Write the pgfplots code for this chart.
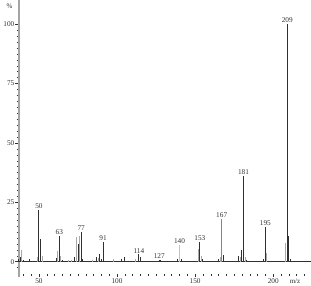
\documentclass[border=0pt]{standalone}
\usepackage{fontspec}
\setmainfont{Liberation Serif}
\usepackage{pgfplots}
\pgfplotsset{compat=1.18}
\definecolor{pk}{HTML}{303030}
\definecolor{pg}{HTML}{A8A8A8}
\definecolor{pl}{HTML}{C4C4C4}
\definecolor{ax}{HTML}{A4A4A4}
\begin{document}
\begin{tikzpicture}
\begin{axis}[
  at={(19bp,12.4bp)}, anchor=south west,
  scale only axis, width=292bp, height=273.6bp,
  xmin=37.2, xmax=224.2, ymin=-5, ymax=110.2,
  axis x line*=bottom, axis y line*=left,
  axis line style={draw=none},
  tick align=outside,
  major tick length=3.5bp, minor tick length=2bp,
  tick style={pk, line width=0.5bp},
  xtick={50,100,150,200},
  minor xtick={40,45,...,220},
  ytick={0,25,50,75,100},
  minor ytick={-2.5,0,...,100},
  /pgf/number format/assume math mode=true,
  tick label style={font=\fontsize{7.3}{8}\selectfont, text=pk},
  yticklabel style={inner sep=1bp},
  xticklabel style={inner sep=1bp},
  clip=false,
  nodes near coords style={font=\fontsize{7.3}{8}\selectfont, anchor=south, inner sep=0.8bp, text=pk},
]
% y axis line
\draw[ax, line width=2bp] ([yshift=-3bp]rel axis cs:0,0) -- (rel axis cs:0,1);
% baseline
\addplot[pk, line width=0.8bp] coordinates {(37.2,0) (224.2,0)};
% gray peaks (unlabelled)
\addplot[ycomb, pg, line width=1bp] table {
m h
39 4.8
49 2.0
52 2.2
62 4.6
64 2.3
69 0.6
71 0.6
74 10.4
76 10.7
84 0.8
88 1.6
98 1.0
112 1.0
152 5.3
154 2.4
166 1.8
179 1.8
182 1.8
196 3.6
208 7.8
};
% black peaks (unlabelled)
\addplot[ycomb, pk, line width=1bp] table {
m h
37 1.3
38 2.0
40 0.6
44 1.0
51 9.4
55 0.5
61 1.5
65 0.8
73 1.9
75 7.5
78 1.2
87 1.8
89 3.4
90 1.0
92 0.5
101 0.5
103 1.3
105 2.1
115 2.1
117 0.5
128 0.6
139 1.2
141 1.0
150 0.5
155 1.0
165 1.1
168 2.7
178 2.5
180 4.9
183 0.7
194 1.0
210 10.9
211 1.0
};
% labelled black peaks
\addplot[ycomb, pk, line width=1bp, nodes near coords, point meta=explicit symbolic] table[meta=l] {
m h l
50 21.8 50
63 11.0 63
77 12.5 77
91 8.4 91
114 3.1 114
127 0.8 127
153 8.3 153
181 36.0 181
195 14.5 195
209 100 209
};
% labelled gray peaks
\addplot[ycomb, pg!80!black, line width=1bp, nodes near coords, point meta=explicit symbolic] table[meta=l] {
m h l
167 18.0 167
};
\addplot[ycomb, pl, line width=1bp, nodes near coords, point meta=explicit symbolic] table[meta=l] {
m h l
140 7.0 140
};
\end{axis}
\node[font=\fontsize{7}{8}\selectfont, text=pk] at (9.5bp,279.5bp) {\%};
\node[font=\fontsize{7}{8}\selectfont, text=pk] at (295bp,5bp) {m/z};
\pgfresetboundingbox
\path (0,0) rectangle (311bp,286bp);
\end{tikzpicture}
\end{document}
